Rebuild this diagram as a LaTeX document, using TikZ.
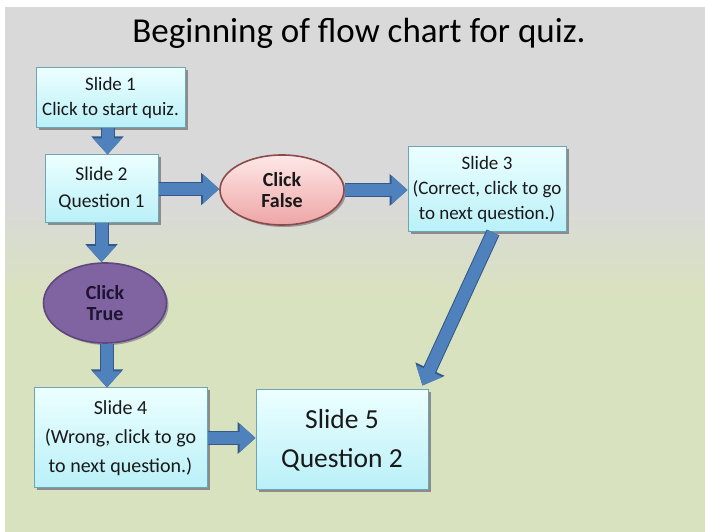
\documentclass[tikz,border=0pt]{standalone}
\usepackage{fontspec}
\setmainfont{Carlito}
\usetikzlibrary{arrows.meta,shapes.geometric,shadows}
\definecolor{bggray}{RGB}{217,217,217}
\definecolor{bggreen}{RGB}{217,226,190}
\definecolor{boxtop}{RGB}{236,255,255}
\definecolor{boxbottom}{RGB}{185,240,248}
\definecolor{boxedge}{RGB}{110,165,180}
\definecolor{arrowblue}{RGB}{79,129,189}
\definecolor{arrowedge}{RGB}{52,88,135}
\definecolor{pinktop}{RGB}{255,232,232}
\definecolor{pinkbottom}{RGB}{238,165,165}
\definecolor{pinkedge}{RGB}{140,75,75}
\definecolor{purplefill}{RGB}{128,100,162}
\definecolor{purpleedge}{RGB}{95,70,125}
\definecolor{inktext}{RGB}{25,25,25}
\begin{document}
\begin{tikzpicture}[x=1pt,y=1pt,
    slidebox/.style={draw=boxedge, line width=1pt, top color=boxtop, bottom color=boxbottom,
        drop shadow={shadow xshift=2.5pt, shadow yshift=-2.5pt, fill=black!45, opacity=1},
        text=inktext, align=center, inner sep=0pt},
    choice/.style={ellipse, line width=1.6pt, align=center, inner sep=0pt,
        font={\fontsize{20}{21}\selectfont\bfseries},
        drop shadow={shadow xshift=2pt, shadow yshift=-2pt, fill=black!40, opacity=1}},
    blockarrow/.style={line width=12pt, draw=arrowblue, -{Triangle[width=28pt,length=16pt]},
        preaction={draw=arrowedge, line width=14pt, -{Triangle[width=31pt,length=18pt]}}}]
    % Background
    \useasboundingbox (0,0) rectangle (705,532);
    \fill[white] (0,0) rectangle (705,532);
    \fill[bggray] (5,332) rectangle (705,525);
    \shade[top color=bggray, bottom color=bggreen] (5,232) rectangle (705,332.5);
    \fill[bggreen] (5,0) rectangle (705,232.5);

    % Title
    \node[text=black, font={\fontsize{35}{40}\selectfont}] (title) at (359,499) {Beginning of flow chart for quiz.};

    % Slides and choices
    \node[slidebox, minimum width=149pt, minimum height=60pt, font={\fontsize{19}{25}\selectfont}]
        (s1) at (110.5,434) {Slide 1\\Click to start quiz.};
    \node[slidebox, minimum width=113pt, minimum height=68pt, font={\fontsize{19.5}{27}\selectfont}]
        (s2) at (101.5,343) {Slide 2\\Question 1};
    \node[choice, draw=pinkedge, top color=pinktop, bottom color=pinkbottom, text=inktext,
        minimum width=124pt, minimum height=70pt] (f) at (282,342) {Click\\False};
    \node[slidebox, minimum width=158pt, minimum height=85pt, font={\fontsize{19}{25}\selectfont}]
        (s3) at (487,342.5) {Slide 3\\(Correct, click to go\\to next question.)};
    \node[choice, draw=purpleedge, fill=purplefill, text={rgb,255:red,30;green,20;blue,50},
        minimum width=123pt, minimum height=80pt] (t) at (105,229) {Click\\True};
    \node[slidebox, minimum width=173pt, minimum height=100pt, font={\fontsize{20}{29}\selectfont}]
        (s4) at (120.5,94) {Slide 4\\(Wrong, click to go\\to next question.)};
    \node[slidebox, minimum width=172pt, minimum height=100pt, font={\fontsize{27.5}{39}\selectfont}]
        (s5) at (342,92) {Slide 5\\Question 2};

    % Arrows
    \draw[blockarrow] ([xshift=-3pt]s1.south) -- ([xshift=-3pt]s1.south |- s2.north);
    \draw[blockarrow] (s2.east) -- (s2.east -| f.west);
    \draw[blockarrow] (f.east) -- (f.east -| s3.west);
    \draw[blockarrow] ([xshift=6pt]s3.south) -- ([xshift=-6pt,yshift=4pt]s5.north east);
    \draw[blockarrow] (s2.south) -- (s2.south |- t.north);
    \draw[blockarrow] ([xshift=2pt]t.south) -- ([xshift=2pt]t.south |- s4.north);
    \draw[blockarrow] (s4.east) -- (s4.east -| s5.west);
\end{tikzpicture}
\end{document}
